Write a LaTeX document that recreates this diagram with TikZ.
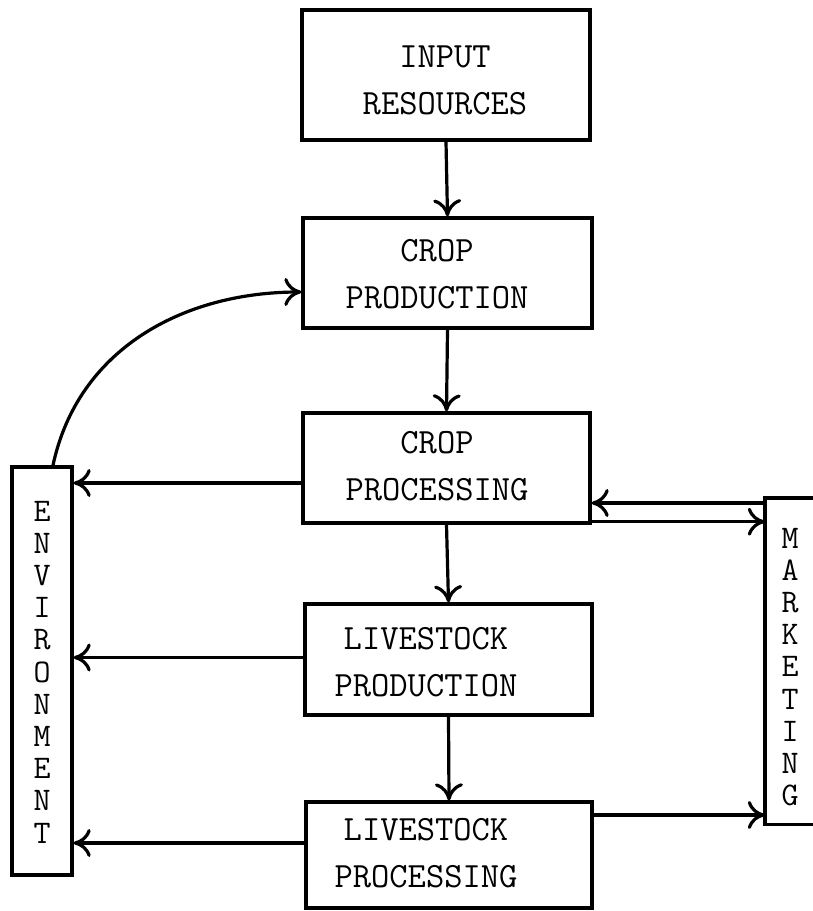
\documentclass[tikz,border=0pt]{standalone}
\usepackage{fontspec}
\usetikzlibrary{arrows.meta,calc}
\tikzset{
  box/.style={draw, line width=3.4pt, rectangle, inner sep=0pt},
  lbl/.style={font=\ttfamily\fontsize{35.5}{47}\selectfont, align=center, inner sep=0pt},
  vlbl/.style={font=\ttfamily\fontsize{33}{32.2}\selectfont, align=center, inner sep=0pt},
  arr/.style={line width=3.2pt, -{Computer Modern Rightarrow[length=17pt,width=28pt,line width=3.2pt]}},
}
\begin{document}
\begin{tikzpicture}[x=1pt,y=-1pt]
\useasboundingbox (0,0) rectangle (813,911);
% boxes
\node[box, minimum width=288, minimum height=130] (inp) at (446,75) {};
\node[box, minimum width=289, minimum height=110] (cprod) at (447.5,273) {};
\node[box, minimum width=287, minimum height=110] (cproc) at (446.5,468) {};
\node[box, minimum width=287, minimum height=111] (lprod) at (448.5,659.5) {};
\node[box, minimum width=286, minimum height=106] (lproc) at (449,855) {};
\node[box, minimum width=60, minimum height=408] (env) at (42,671) {};
\node[inner sep=0pt, minimum width=48, minimum height=326] (mkt) at (789,661) {};
\draw[line width=3.4pt] (mkt.north east) -- (mkt.north west) -- (mkt.south west) -- (mkt.south east);
% texts
\node[lbl] (tinp) at (445,80) {INPUT\\RESOURCES};
\node[lbl] (tcprod) at (437,274) {CROP\\PRODUCTION};
\node[lbl] (tcproc) at (437,466) {CROP\\PROCESSING};
\node[lbl] (tlprod) at (426,662) {LIVESTOCK\\PRODUCTION};
\node[lbl] (tlproc) at (426,853) {LIVESTOCK\\PROCESSING};
\node[vlbl] (tenv) at (42,672) {E\\N\\V\\I\\R\\O\\N\\M\\E\\N\\T};
\node[vlbl] (tmkt) at (790,667) {M\\A\\R\\K\\E\\T\\I\\N\\G};
% vertical flow
\draw[arr] (inp.south) -- (cprod.north);
\draw[arr] (cprod.south) -- (cproc.north);
\draw[arr] (cproc.south) -- (lprod.north);
\draw[arr] (lprod.south) -- (lproc.north);
% environment
\draw[arr] ([xshift=11pt]env.north) to[out=78,in=180] ([yshift=-19pt]cprod.west);
\draw[arr] ([yshift=-15pt]cproc.west) coordinate (e1) -- (e1 -| env.east);
\draw[arr] ([yshift=2pt]lprod.west) coordinate (e2) -- (e2 -| env.east);
\draw[arr] ([yshift=12pt]lproc.west) coordinate (e3) -- (e3 -| env.east);
% marketing
\coordinate (m1) at ([yshift=158pt]mkt.west);
\draw[arr] (m1) -- (m1 -| cproc.east);
\coordinate (m2) at ([yshift=3pt]cproc.south east);
\draw[arr] (m2) -- (m2 -| mkt.west);
\draw[arr] ([yshift=40pt]lproc.east) coordinate (m3) -- (m3 -| mkt.west);
\end{tikzpicture}
\end{document}
